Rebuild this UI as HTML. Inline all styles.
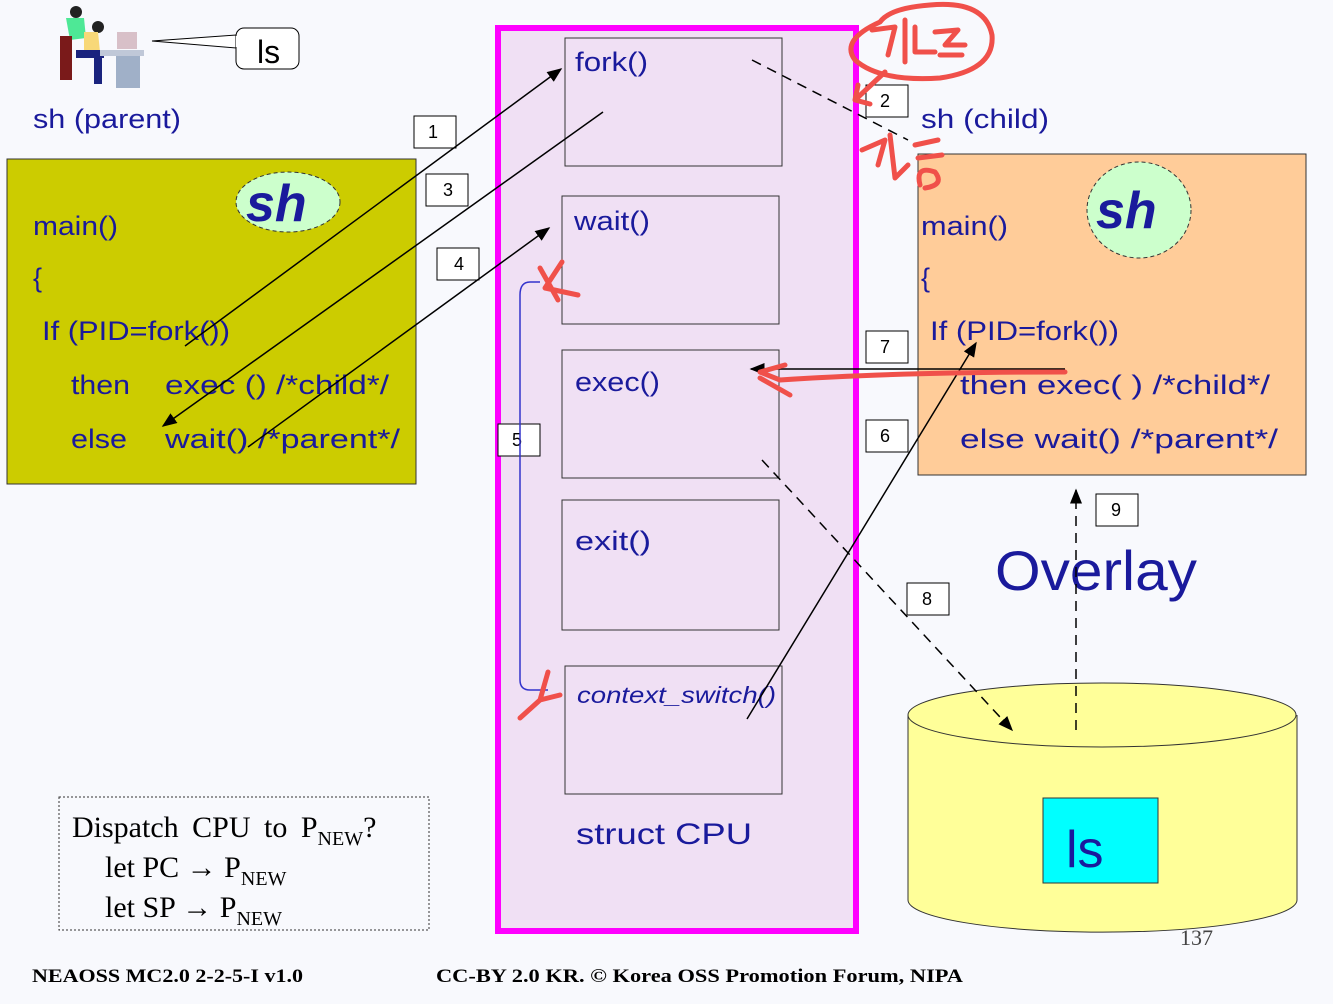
<!DOCTYPE html>
<html><head><meta charset="utf-8"><style>
body{margin:0;width:1333px;height:999px;background:#f8f9fd;overflow:hidden;}
.s{font-family:"Liberation Sans","DejaVu Sans",sans-serif;}
.r{font-family:"Liberation Serif",serif;}
</style></head><body>
<svg width="1333" height="999" xmlns="http://www.w3.org/2000/svg">
<defs><marker id="a" markerWidth="10" markerHeight="8" refX="9" refY="4" orient="auto"><path d="M0,0L10,4L0,8z" fill="#000"/></marker></defs>
<!-- person icon -->
<g>
<circle cx="76" cy="12" r="6" fill="#222"/><path d="M66,18L84,18L86,38L70,40z" fill="#4ee896"/><rect x="60" y="36" width="12" height="44" fill="#7a1a1a"/>
<circle cx="98" cy="27" r="6" fill="#222"/><path d="M84,32L98,32L100,52L84,52z" fill="#f8d878"/><rect x="76" y="50" width="28" height="8" fill="#1a237e"/><rect x="94" y="56" width="8" height="28" fill="#1a237e"/>
<rect x="117" y="32" width="20" height="17" fill="#d8c0c8"/><rect x="100" y="50" width="44" height="6" fill="#c0c8d8"/><rect x="116" y="56" width="24" height="32" fill="#a0b0c8"/>
</g>
<path d="M152,41L236,35L236,48z" fill="#fff" stroke="#000"/>
<rect x="236" y="28" width="63" height="41" rx="8" fill="#fff" stroke="#000"/>
<path d="M237,36L237,47" stroke="#fff" stroke-width="2"/>
<g class="s">
<text x="257" y="63" font-size="32">ls</text>
<text x="33" y="128" font-size="27" fill="#1a1a9c" textLength="148" lengthAdjust="spacingAndGlyphs">sh (parent)</text>
</g>
<!-- parent box -->
<rect x="7" y="159" width="409" height="325" fill="#cccc00" stroke="#333"/>
<ellipse cx="288" cy="202" rx="52" ry="30" fill="#ccffcc" stroke="#333" stroke-dasharray="4,3"/>
<g class="s" font-size="27" fill="#1a1a9c">
<text x="246" y="221" font-size="52" font-weight="bold" font-style="italic">sh</text>
<text x="33" y="235" textLength="85" lengthAdjust="spacingAndGlyphs">main()</text><text x="33" y="287">{</text>
<text x="42" y="340" textLength="188" lengthAdjust="spacingAndGlyphs">If (PID=fork())</text>
<text x="71" y="394" textLength="59" lengthAdjust="spacingAndGlyphs">then</text><text x="165" y="394" textLength="224" lengthAdjust="spacingAndGlyphs">exec () /*child*/</text>
<text x="71" y="448" textLength="56" lengthAdjust="spacingAndGlyphs">else</text><text x="165" y="448" textLength="235" lengthAdjust="spacingAndGlyphs">wait()  /*parent*/</text>
</g>
<!-- middle struct -->
<rect x="498" y="28" width="358" height="903" fill="#f0e0f4" stroke="#ff00ff" stroke-width="6"/>
<g fill="#f0e0f4" stroke="#333">
<rect x="565" y="38" width="217" height="128"/><rect x="562" y="196" width="217" height="128"/>
<rect x="562" y="350" width="217" height="128"/><rect x="562" y="500" width="217" height="130"/>
<rect x="565" y="666" width="217" height="128"/></g>
<g class="s" font-size="27" fill="#1a1a9c">
<text x="575" y="71" textLength="73" lengthAdjust="spacingAndGlyphs">fork()</text>
<text x="574" y="230" textLength="76" lengthAdjust="spacingAndGlyphs">wait()</text>
<text x="575" y="391" textLength="85" lengthAdjust="spacingAndGlyphs">exec()</text>
<text x="575" y="550" textLength="76" lengthAdjust="spacingAndGlyphs">exit()</text>
<text x="577" y="703" font-size="23" font-style="italic" textLength="199" lengthAdjust="spacingAndGlyphs">context_switch()</text>
<text x="576" y="844" font-size="30" textLength="176" lengthAdjust="spacingAndGlyphs">struct  CPU</text></g>
<!-- child -->
<rect x="918" y="154" width="388" height="321" fill="#ffcc99" stroke="#333"/>
<ellipse cx="1139" cy="210" rx="52" ry="48" fill="#ccffcc" stroke="#333" stroke-dasharray="4,3"/>
<g class="s" font-size="27" fill="#1a1a9c">
<text x="921" y="128" textLength="128" lengthAdjust="spacingAndGlyphs">sh (child)</text>
<text x="1096" y="228" font-size="52" font-weight="bold" font-style="italic">sh</text>
<text x="921" y="235" textLength="87" lengthAdjust="spacingAndGlyphs">main()</text><text x="921" y="287">{</text>
<text x="930" y="340" textLength="189" lengthAdjust="spacingAndGlyphs">If (PID=fork())</text>
<text x="960" y="394" textLength="310" lengthAdjust="spacingAndGlyphs">then  exec( )  /*child*/</text>
<text x="960" y="448" textLength="318" lengthAdjust="spacingAndGlyphs">else   wait()  /*parent*/</text>
<text x="995" y="590" font-size="56" textLength="202" lengthAdjust="spacingAndGlyphs">Overlay</text></g>
<!-- disk -->
<text class="r" x="1180" y="945" font-size="22" fill="#444">137</text>
<path d="M908,715L908,900A194,32 0 0 0 1297,900L1297,715" fill="#ffff99" stroke="#333"/>
<ellipse cx="1102" cy="715" rx="194" ry="32" fill="#ffff99" stroke="#333"/>
<rect x="1043" y="798" width="115" height="85" fill="#00ffff" stroke="#333"/>
<text class="s" x="1066" y="867" font-size="52" fill="#1a1a9c">ls</text>
<!-- dispatch -->
<rect x="59" y="797" width="370" height="133" fill="#f8f9fd" stroke="#333" stroke-dasharray="2,2"/>
<g class="r" font-size="30" fill="#000">
<text x="72" y="837" word-spacing="6">Dispatch CPU to P<tspan font-size="20" dy="8">NEW</tspan><tspan dy="-8">?</tspan></text>
<text x="105" y="877">let   PC → P<tspan font-size="20" dy="8">NEW</tspan></text>
<text x="105" y="917">let   SP  → P<tspan font-size="20" dy="8">NEW</tspan></text></g>
<g class="r" font-size="19" font-weight="bold">
<text x="32" y="982" textLength="271" lengthAdjust="spacingAndGlyphs">NEAOSS MC2.0 2-2-5-I v1.0</text>
<text x="436" y="982" textLength="527" lengthAdjust="spacingAndGlyphs">CC-BY 2.0 KR. © Korea OSS Promotion Forum, NIPA</text></g>
<!-- number boxes -->
<g fill="#fff" stroke="#000">
<rect x="414" y="116" width="42" height="32"/><rect x="866" y="85" width="42" height="32"/>
<rect x="426" y="174" width="42" height="32"/><rect x="437" y="248" width="42" height="32"/>
<rect x="498" y="424" width="42" height="32"/><rect x="866" y="420" width="42" height="32"/>
<rect x="866" y="331" width="42" height="32"/><rect x="907" y="583" width="42" height="32"/>
<rect x="1096" y="494" width="42" height="32"/></g>
<g class="s" font-size="18" text-anchor="middle">
<text x="433" y="138">1</text><text x="885" y="107">2</text><text x="448" y="196">3</text><text x="459" y="270">4</text>
<text x="517" y="446">5</text><text x="885" y="442">6</text><text x="885" y="353">7</text><text x="927" y="605">8</text><text x="1116" y="516">9</text></g>
<!-- arrows -->
<g stroke="#000" stroke-width="1.5" fill="none">
<line x1="185" y1="346" x2="561" y2="69" marker-end="url(#a)"/>
<line x1="603" y1="112" x2="163" y2="426" marker-end="url(#a)"/>
<line x1="248" y1="447" x2="549" y2="228" marker-end="url(#a)"/>
<line x1="747" y1="719" x2="976" y2="343" marker-end="url(#a)"/>
<line x1="1065" y1="369" x2="751" y2="369" marker-end="url(#a)"/>
<line x1="752" y1="60" x2="908" y2="140" stroke-dasharray="10,7"/>
<line x1="762" y1="460" x2="1012" y2="730" stroke-dasharray="10,7" marker-end="url(#a)"/>
<line x1="1076" y1="730" x2="1076" y2="490" stroke-dasharray="10,7" marker-end="url(#a)"/>
</g>
<path d="M548,690L530,690Q520,690 520,680L520,295Q520,282 530,282L540,282" stroke="#3333cc" stroke-width="1.5" fill="none"/>
<!-- red handwriting -->
<g stroke="#f0504a" stroke-width="5" fill="none" stroke-linecap="round" stroke-linejoin="round">
<path d="M880,22Q840,40 855,60Q880,82 940,78Q995,70 992,35Q985,0 930,5Q890,8 880,22"/>
<path d="M872,30L895,27L888,55M905,20L905,62M915,27L915,52L935,52M935,32L958,30L945,45L965,45M940,55L962,55"/>
<path d="M885,72L855,100L870,104M855,100L858,85"/>
<path d="M862,150L885,140L878,165M890,135L895,178L908,165M915,145L938,140M918,158L942,155M920,185Q915,165 935,172Q945,185 925,188"/>
<path d="M540,268L558,300M562,262L545,288L578,295"/>
<path d="M548,672L540,700L520,718M540,700L560,695"/>
<path d="M1065,372Q900,372 780,380L760,372L785,365M760,378L790,395"/>
</g>
</svg>
</body></html>
